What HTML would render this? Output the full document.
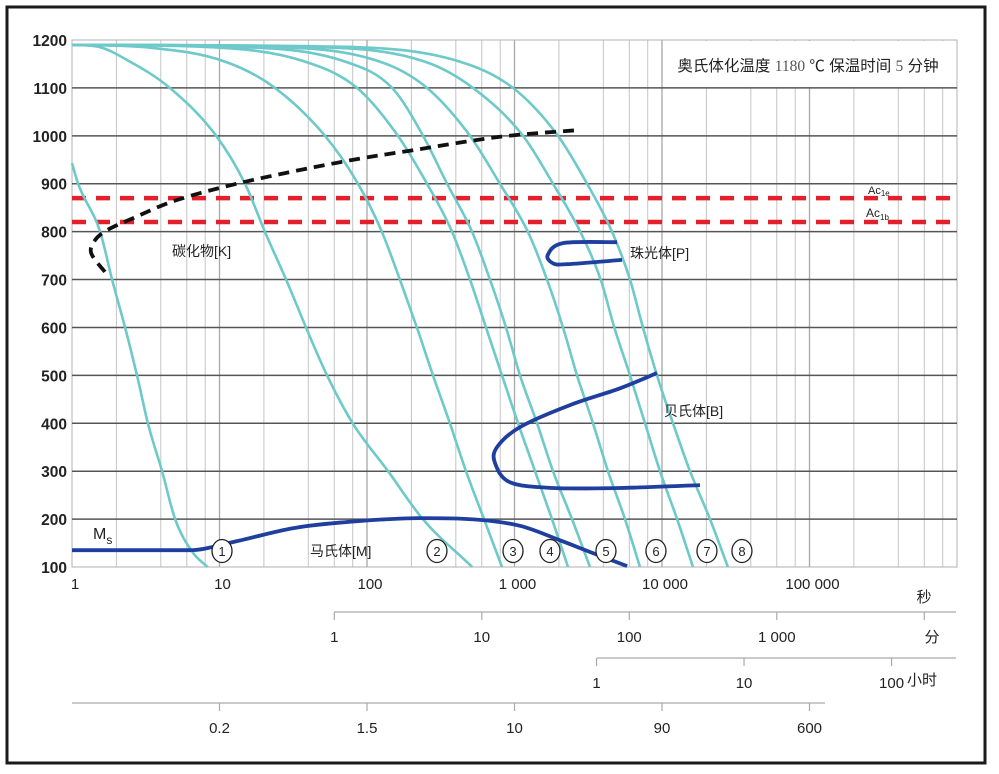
<!DOCTYPE html>
<html><head><meta charset="utf-8"><style>
html,body{margin:0;padding:0;background:#fff;}
svg{display:block;font-family:"Liberation Sans","Noto Sans CJK SC",sans-serif;}
</style></head><body>
<svg id="chart" width="999" height="774" viewBox="0 0 999 774" xmlns="http://www.w3.org/2000/svg">
<rect x="7" y="7" width="978" height="756" fill="#fff" stroke="#1a1a1a" stroke-width="3"/>
<g id="grid"></g>
<rect x="663" y="41" width="293" height="46" fill="#fff"/>
<text x="808" y="71" font-size="15.5" text-anchor="middle" fill="#222">奥氏体化温度 <tspan font-family="Liberation Serif" fill="#555">1180</tspan> ℃ 保温时间 <tspan font-family="Liberation Serif" fill="#555">5</tspan> 分钟</text>
<g id="marks"></g>
<g id="labels" fill="#222">
<text x="172" y="256" font-size="14">碳化物[K]</text>
<text x="630" y="258" font-size="14">珠光体[P]</text>
<text x="664" y="416" font-size="14">贝氏体[B]</text>
<text x="310" y="556" font-size="14">马氏体[M]</text>
<text x="93" y="539" font-size="16">M<tspan font-size="12" dy="5">s</tspan></text>
<text x="868" y="194" font-size="11">Ac<tspan font-size="8" dy="2">1e</tspan></text>
<text x="866" y="217" font-size="12">Ac<tspan font-size="8" dy="3">1b</tspan></text>
</g>
<g id="axes"></g>
</svg>
<script>
const yTicks=[100,200,300,400,500,600,700,800,900,1000,1100,1200];
const secLabels=["1","10","100","1 000","10 000","100 000"];
const secTicks=[1,10,100,1000,10000,100000];
const minTicks=[1,10,100,1000,10000];
const minLabels=["1","10","100","1 000",""];
const hourTicks=[1,10,100];
const hourLabels=["1","10","100"];
const diaTicks=[10,100,1000,10000,100000];
const diaLabels=["0.2","1.5","10","90","600"];
const circleLabels=["1","2","3","4","5","6","7","8"];
const circleTimes=[10.4,298,977,1740,4170,9100,20180,34830];
const acTemps=[870,820];
const curve1=[[1,943],[1.1,900],[1.55,800],[1.87,700],[2.29,600],[2.76,500],[3.27,400],[4.08,300],[5,200],[6.6,130],[8.3,100]];
const curve2=[[1,1190],[1.5,1186],[2.47,1155],[4.6,1100],[9.5,1000],[14.9,900],[20.3,800],[28.3,700],[38.6,600],[53.6,500],[80,400],[139,300],[239,200],[517,100]];
const curve3=[[1,1190],[3.4,1184],[10.9,1155],[23.8,1100],[51.9,1000],[86.9,900],[126,800],[167,700],[218,600],[280,500],[365,400],[469,300],[621,200],[823,100]];
const curve4=[[1,1190],[7.4,1186],[38,1155],[85.6,1100],[162,1000],[255,900],[377,800],[499,700],[641,600],[823,500],[1057,400],[1378,300],[1795,200],[2305,100]];
const curve5=[[1,1190],[11.8,1186],[71,1155],[148,1100],[240,1000],[349,900],[515,800],[682,700],[876,600],[1090,500],[1422,400],[1824,300],[2455,200],[3250,100]];
const curve6=[[1,1190],[18.8,1186],[122,1155],[255,1100],[499,1000],[796,900],[1230,800],[1660,700],[2133,600],[2655,500],[3405,400],[4303,300],[5610,200],[7096,100]];
const curve7=[[1,1190],[35,1186],[246,1155],[523,1100],[1142,1000],[1824,900],[2790,800],[3840,700],[4750,600],[6067,500],[7670,400],[9690,300],[12650,200],[16220,100]];
const curve8=[[1,1190],[65.6,1186],[425,1155],[977,1100],[1972,1000],[3105,900],[4581,800],[6067,700],[7430,600],[9250,500],[11880,400],[15490,300],[21150,200],[27990,100]];
const carbide=[[1.67,716],[1.35,755],[1.43,782],[1.73,803],[2.59,828],[5.15,866],[14.9,904],[65.6,945],[205,970],[798,998],[2698,1012]];
const pearlite=[[4955,778],[2133,776],[1680,751],[1824,734],[2260,732],[5355,741]];
const bainite=[[9250,505],[5190,473],[2377,438],[1090,392],[761,350],[738,317],[931,277],[1824,265],[5190,265],[18110,271]];
const msLine=[[1,135],[6.3,135],[12.3,152],[31.5,181],[89.7,196],[229,202],[424,201],[1090,186],[2026,156],[3405,129],[5800,102]];

const NS="http://www.w3.org/2000/svg";
const X0=72,DEC=147.5,Y0=40,K=0.4791;
function X(t){return X0+DEC*Math.log10(t);}
function Y(T){return Y0+(1200-T)*K;}
function mk(tag,attrs,parent){const e=document.createElementNS(NS,tag);for(const k in attrs)e.setAttribute(k,attrs[k]);parent.appendChild(e);return e;}
function smooth(data){const p=data.map(d=>[X(d[0]),Y(d[1])]);let s="M"+p[0][0].toFixed(1)+","+p[0][1].toFixed(1);
for(let i=0;i<p.length-1;i++){const a=p[Math.max(i-1,0)],b=p[i],c=p[i+1],d=p[Math.min(i+2,p.length-1)];
const c1=[b[0]+(c[0]-a[0])/6,b[1]+(c[1]-a[1])/6],c2=[c[0]-(d[0]-b[0])/6,c[1]-(d[1]-b[1])/6];
s+="C"+c1.map(v=>v.toFixed(1)).join(",")+" "+c2.map(v=>v.toFixed(1)).join(",")+" "+c[0].toFixed(1)+","+c[1].toFixed(1);}return s;}
function monotone(data){const p=data.map(d=>[X(d[0]),Y(d[1])]);const n=p.length;const dl=[],m=[];
for(let i=0;i<n-1;i++)dl.push((p[i+1][1]-p[i][1])/(p[i+1][0]-p[i][0]));
m[0]=dl[0];m[n-1]=dl[n-2];
for(let i=1;i<n-1;i++){m[i]=(dl[i-1]*dl[i]<=0)?0:(dl[i-1]+dl[i])/2;}
for(let i=0;i<n-1;i++){if(dl[i]===0){m[i]=0;m[i+1]=0;continue;}const a=m[i]/dl[i],b=m[i+1]/dl[i],h=a*a+b*b;if(h>9){const t=3/Math.sqrt(h);m[i]=t*a*dl[i];m[i+1]=t*b*dl[i];}}
let s="M"+p[0][0].toFixed(1)+","+p[0][1].toFixed(1);
for(let i=0;i<n-1;i++){const h=(p[i+1][0]-p[i][0])/3;
s+="C"+(p[i][0]+h).toFixed(1)+","+(p[i][1]+m[i]*h).toFixed(1)+" "+(p[i+1][0]-h).toFixed(1)+","+(p[i+1][1]-m[i+1]*h).toFixed(1)+" "+p[i+1][0].toFixed(1)+","+p[i+1][1].toFixed(1);}
return s;}

const grid=document.getElementById('grid'),marks=document.getElementById('marks'),axes=document.getElementById('axes');
for(let dec=0;dec<6;dec++){for(const m of [1,2,4,6,8]){const t=Math.pow(10,dec)*m;if(dec===0&&m===1)continue;const x=X(t);
const l=mk('line',{x1:x,y1:Y(1200),x2:x,y2:Y(100),stroke:m===1?'#a8a8a8':'#c4c4c4','stroke-width':m===1?1.3:1},grid);

}}
const bx=mk('rect',{x:X0,y:Y(1200),width:DEC*6,height:Y(100)-Y(1200),fill:'none',stroke:'#b0b0b0','stroke-width':1},grid);


yTicks.forEach(v=>{const y=Y(v);
if(v<1200&&v>100){const l=mk('line',{x1:X0,y1:y,x2:X0+DEC*6,y2:y,stroke:'#555','stroke-width':1.5},grid);

}
const t=mk('text',{x:67,y:y+6,'text-anchor':'end','font-size':15.5,'font-weight':'bold',fill:'#222'},axes);t.textContent=v;

});
acTemps.forEach(T=>{const l=mk('line',{x1:X0,y1:Y(T),x2:X0+DEC*6,y2:Y(T),stroke:'#e3202a','stroke-width':4.5,'stroke-dasharray':'14 10'},marks);

});
[curve1,curve2,curve3,curve4,curve5,curve6,curve7,curve8].forEach((c,i)=>{const p=mk('path',{d:monotone(c),fill:'none',stroke:'#6ec9ca','stroke-width':2.6},marks);

});
const cb=mk('path',{d:smooth(carbide),fill:'none',stroke:'#111','stroke-width':3.8,'stroke-dasharray':'11 7'},marks);


[[pearlite,'pearlite-curve'],[bainite,'bainite-curve']].forEach(([d,n])=>{const p=mk('path',{d:smooth(d),fill:'none',stroke:'#1f3f9f','stroke-width':3.8},marks);

});
const ms=mk('path',{d:monotone(msLine),fill:'none',stroke:'#1f3f9f','stroke-width':3.8},marks);


circleLabels.forEach((s,i)=>{const x=X(circleTimes[i]),y=551;
const c=mk('ellipse',{cx:x,cy:y,rx:10,ry:11.5,fill:'#fff',stroke:'#222','stroke-width':1.3},marks);


const t=mk('text',{x:x,y:y+5,'text-anchor':'middle','font-size':13,fill:'#222'},marks);t.textContent=s;

});
secTicks.forEach((v,i)=>{const t=mk('text',{x:X(v)+3,y:589,'text-anchor':'middle','font-size':15,fill:'#222'},axes);t.textContent=secLabels[i];

});
function txt(x,y,s,n,size){const t=mk('text',{x:x,y:y,'text-anchor':'middle','font-size':size||15,fill:'#222'},axes);t.textContent=s;

}
txt(924,602,'秒','seconds-unit');
function subAxis(y,x1,x2,vals,labels,toSec,name){const l=mk('line',{x1:x1,y1:y,x2:x2,y2:y,stroke:'#aaa','stroke-width':1.3},axes);


vals.forEach((v,i)=>{const x=X(v*toSec);const tk=mk('line',{x1:x,y1:y,x2:x,y2:y+8,stroke:'#aaa','stroke-width':1.2},axes);


if(labels[i])txt(x,y+30,labels[i],name+'-label');});}
subAxis(612,334,956,minTicks,minLabels,60,'minutes-axis');
txt(932,642,'分','minutes-unit');
subAxis(658,597,956,hourTicks,hourLabels,3600,'hours-axis');
txt(922,685,'小时','hours-unit');
subAxis(703,72,825,diaTicks,diaLabels,1,'diameter-axis');
</script>
</body></html>
